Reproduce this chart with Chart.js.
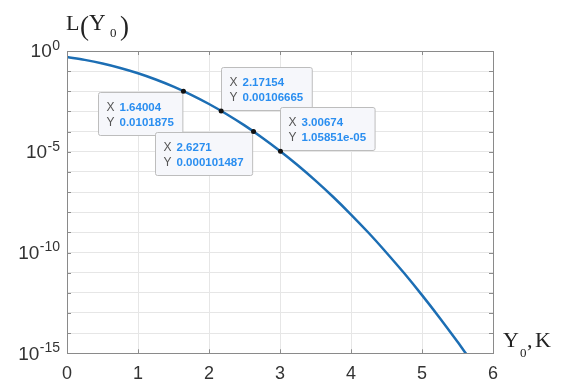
<!DOCTYPE html>
<html>
<head>
<meta charset="utf-8">
<script src="https://cdn.jsdelivr.net/npm/chart.js@4.4.0/dist/chart.umd.min.js"></script>
<style>
  html, body { margin: 0; padding: 0; background: #fff; }
  #wrap { width: 563px; height: 385px; }
</style>
</head>
<body>
<div id="wrap"><canvas id="myChart"></canvas></div>
<script>
// curve L(Y0)
var y0Values = [0, 0.25, 0.5, 0.75, 1, 1.25, 1.5, 1.75, 2, 2.25, 2.5, 2.75, 3, 3.25, 3.5, 3.75, 4, 4.25, 4.5, 4.75, 5, 5.25, 5.5, 5.65];
var lValues = [0.5, 0.362, 0.24, 0.144, 0.0786, 0.0385, 0.017, 0.00667, 0.00234, 7.3e-4, 2.03e-4, 5.0e-5, 1.1e-5, 2.15e-6, 3.7e-7, 5.7e-8, 7.7e-9, 9.3e-10, 9.8e-11, 9.3e-12, 7.7e-13, 5.7e-14, 3.7e-15, 6.7e-16];

// data tips
var tipX = [1.64004, 2.17154, 2.6271, 3.00674];
var tipY = [0.0101875, 0.00106665, 0.000101487, 1.05851e-5];
var tipXText = ['1.64004', '2.17154', '2.6271', '3.00674'];
var tipYText = ['0.0101875', '0.00106665', '0.000101487', '1.05851e-05'];
var tipSide = ['below', 'above', 'below', 'above'];

// axes
var xTicks = [0, 1, 2, 3, 4, 5, 6];
var yDecades = [0, -1, -2, -3, -4, -5, -6, -7, -8, -9, -10, -11, -12, -13, -14, -15];
var yLabelExps = [0, -5, -10, -15];

var extras = {
  id: 'extras',
  afterDatasetsDraw: function (chart) {
    var ctx = chart.ctx;
    var a = chart.chartArea;
    var xs = chart.scales.x;
    var ys = chart.scales.y;
    var i;
    ctx.save();

    // box + inner tick marks
    ctx.strokeStyle = '#8c8c8c';
    ctx.lineWidth = 1;
    ctx.beginPath();
    for (i = 0; i < xTicks.length; i++) {
      var tx = Math.round(xs.getPixelForValue(xTicks[i])) + 0.5;
      ctx.moveTo(tx, a.bottom); ctx.lineTo(tx, a.bottom - 4);
      ctx.moveTo(tx, a.top); ctx.lineTo(tx, a.top + 4);
    }
    for (i = 0; i < yDecades.length; i++) {
      var ty = Math.round(ys.getPixelForValue(Math.pow(10, yDecades[i]))) + 0.5;
      ctx.moveTo(a.left, ty); ctx.lineTo(a.left + 4, ty);
      ctx.moveTo(a.right, ty); ctx.lineTo(a.right - 4, ty);
    }
    ctx.stroke();
    ctx.strokeStyle = '#8a8a8a';
    ctx.strokeRect(Math.round(a.left) + 0.5, Math.round(a.top) + 0.5,
      Math.round(a.right - a.left), Math.round(a.bottom - a.top));

    // y tick labels 10^n
    ctx.fillStyle = '#333';
    ctx.textBaseline = 'middle';
    for (i = 0; i < yLabelExps.length; i++) {
      var py = ys.getPixelForValue(Math.pow(10, yLabelExps[i]));
      var sup = String(yLabelExps[i]);
      ctx.font = '14px Arial, "Liberation Sans", sans-serif';
      var sw = ctx.measureText(sup).width;
      ctx.textAlign = 'left';
      ctx.fillText(sup, 60 - sw, py - 5);
      ctx.font = '19px Arial, "Liberation Sans", sans-serif';
      ctx.textAlign = 'right';
      ctx.fillText('10', 60 - sw - 0.5, py + 1);
    }

    // data tip boxes
    for (i = 0; i < tipX.length; i++) {
      var px = xs.getPixelForValue(tipX[i]);
      var pyy = ys.getPixelForValue(tipY[i]);
      ctx.font = 'bold 11.5px Arial, "Liberation Sans", sans-serif';
      var w = Math.max(ctx.measureText(tipXText[i]).width, ctx.measureText(tipYText[i]).width) + 30;
      var h = 43;
      var bx, by;
      if (tipSide[i] === 'below') { bx = px - 1 - w; by = pyy + 1; }
      else { bx = px; by = pyy - 1 - h; }
      bx = Math.round(bx) + 0.5; by = Math.round(by) + 0.5;
      ctx.fillStyle = '#f6f7fb';
      ctx.strokeStyle = '#bdbdbd';
      ctx.beginPath();
      ctx.roundRect(bx, by, w, h, 2);
      ctx.fill();
      ctx.stroke();
      ctx.textAlign = 'left';
      ctx.textBaseline = 'middle';
      ctx.fillStyle = '#555';
      ctx.font = '12px Arial, "Liberation Sans", sans-serif';
      ctx.fillText('X', bx + 8, by + 15);
      ctx.fillText('Y', bx + 8, by + 30.5);
      ctx.fillStyle = '#2a8ef0';
      ctx.font = 'bold 11.5px Arial, "Liberation Sans", sans-serif';
      ctx.fillText(tipXText[i], bx + 21, by + 15);
      ctx.fillText(tipYText[i], bx + 21, by + 30.5);
    }

    // data tip markers on top
    ctx.fillStyle = '#111';
    for (i = 0; i < tipX.length; i++) {
      ctx.beginPath();
      ctx.arc(xs.getPixelForValue(tipX[i]), ys.getPixelForValue(tipY[i]), 2.5, 0, Math.PI * 2);
      ctx.fill();
    }

    // axis titles, serif
    ctx.fillStyle = '#222';
    ctx.textBaseline = 'alphabetic';
    ctx.textAlign = 'left';
    ctx.font = '22px "Liberation Serif", "Times New Roman", serif';
    ctx.fillText('L', 66, 30);
    ctx.font = '27px "Liberation Serif", "Times New Roman", serif';
    ctx.fillText('(', 80, 35);
    ctx.fillText(')', 120, 35);
    ctx.font = '23px "Liberation Serif", "Times New Roman", serif';
    ctx.fillText('Y', 89, 30);
    ctx.font = '13px "Liberation Serif", "Times New Roman", serif';
    ctx.fillText('0', 110, 37);

    ctx.font = '22px "Liberation Serif", "Times New Roman", serif';
    ctx.fillText('Y', 503, 347);
    ctx.font = '13px "Liberation Serif", "Times New Roman", serif';
    ctx.fillText('0', 520, 357);
    ctx.font = '22px "Liberation Serif", "Times New Roman", serif';
    ctx.fillText(',', 527, 347);
    ctx.fillText('K', 535, 347);

    ctx.restore();
  }
};

var ctx = document.getElementById('myChart').getContext('2d');

var myChart = new Chart(ctx, {
  type: 'scatter',
  data: {
    datasets: [{
      label: 'L(Y0)',
      data: y0Values.map(function (x, i) { return { x: x, y: lValues[i] }; }),
      showLine: true,
      borderColor: '#1c6eb4',
      borderWidth: 2.5,
      pointRadius: 0,
      cubicInterpolationMode: 'monotone'
    }]
  },
  options: {
    responsive: true,
    maintainAspectRatio: false,
    animation: false,
    layout: { padding: { left: 67, top: 51, right: 70, bottom: 2 } },
    plugins: { legend: { display: false }, tooltip: { enabled: false } },
    scales: {
      x: {
        type: 'linear',
        min: 0,
        max: 6,
        afterBuildTicks: function (scale) {
          scale.ticks = xTicks.map(function (v) { return { value: v }; });
        },
        afterFit: function (scale) { scale.height = 29.7; },
        ticks: {
          padding: 10,
          color: '#333',
          font: { family: 'Arial, "Liberation Sans", sans-serif', size: 18 }
        },
        grid: { color: '#e6e6e6', drawTicks: false },
        border: { display: false }
      },
      y: {
        type: 'logarithmic',
        min: 1e-15,
        max: 1,
        afterBuildTicks: function (scale) {
          scale.ticks = yDecades.map(function (e) { return { value: Math.pow(10, e) }; });
        },
        afterFit: function (scale) { scale.width = 0; },
        ticks: { display: false },
        grid: { color: '#e6e6e6', drawTicks: false },
        border: { display: false }
      }
    }
  },
  plugins: [extras]
});
</script>
</body>
</html>
